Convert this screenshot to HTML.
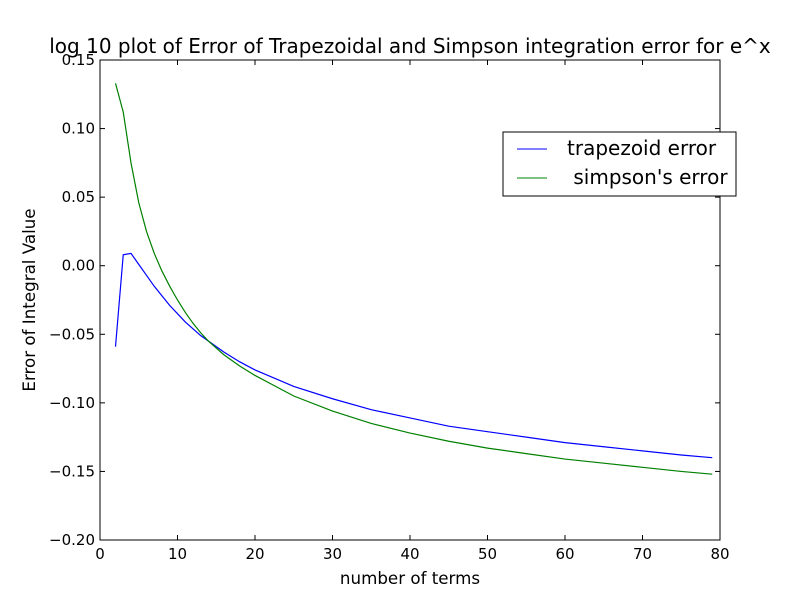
<!DOCTYPE html>
<html><head><meta charset="utf-8"><style>
body{margin:0;background:#fff;}
svg{font-family:"DejaVu Sans","Liberation Sans",sans-serif;}
</style></head><body>
<svg id="chart" width="800" height="600"></svg>
<script>
const xTicks=[0,10,20,30,40,50,60,70,80];
const yTicks=[-0.20,-0.15,-0.10,-0.05,0.00,0.05,0.10,0.15];
const nTerms=[2,3,4,5,6,7,8,9,10,11,12,13,14,16,18,20,25,30,35,40,45,50,55,60,65,70,75,79];
const trapErr=[-0.059,0.008,0.009,0.001,-0.007,-0.015,-0.022,-0.029,-0.035,-0.041,-0.046,-0.051,-0.055,-0.063,-0.070,-0.076,-0.088,-0.097,-0.105,-0.111,-0.117,-0.121,-0.125,-0.129,-0.132,-0.135,-0.138,-0.140];
const simpErr=[0.133,0.112,0.075,0.046,0.025,0.009,-0.004,-0.015,-0.025,-0.034,-0.042,-0.049,-0.055,-0.065,-0.073,-0.080,-0.095,-0.106,-0.115,-0.122,-0.128,-0.133,-0.137,-0.141,-0.144,-0.147,-0.150,-0.152];

const L=100,R=720,T=60,B=540;
const sx=v=>L+(v-0)/(80-0)*(R-L);
const sy=v=>B-(v+0.2)/(0.35)*(B-T);
const svg=document.getElementById('chart');
const NS='http://www.w3.org/2000/svg';
function mk(tag,attrs,parent){const e=document.createElementNS(NS,tag);for(const k in attrs)e.setAttribute(k,attrs[k]);(parent||svg).appendChild(e);return e;}

let t=mk('text',{x:410,y:53,'text-anchor':'middle','font-size':20});
t.textContent='log 10 plot of Error of Trapezoidal and Simpson integration error for e^x';



xTicks.forEach(v=>{
  const x=sx(v);
  const g=mk('g',{});
  
  
  mk('line',{x1:x,x2:x,y1:B,y2:B-5,stroke:'#000'},g);
  mk('line',{x1:x,x2:x,y1:T,y2:T+5,stroke:'#000'},g);
  const tx=mk('text',{x:x,y:B+19,'text-anchor':'middle','font-size':15},g);
  tx.textContent=v;
});
yTicks.forEach(v=>{
  const y=sy(v);
  const g=mk('g',{});
  
  
  mk('line',{x1:L,x2:L+5,y1:y,y2:y,stroke:'#000'},g);
  mk('line',{x1:R,x2:R-5,y1:y,y2:y,stroke:'#000'},g);
  const tx=mk('text',{x:L-5,y:y+5,'text-anchor':'end','font-size':15},g);
  tx.textContent=(v<0?'\u2212':'')+Math.abs(v).toFixed(2);
});

function series(xs,ys,color,name){
  const p=mk('polyline',{points:xs.map((x,i)=>sx(x)+','+sy(ys[i])).join(' '),fill:'none',stroke:color,'stroke-width':1.2});
  
  
}
series(nTerms,trapErr,'#0000ff','trapezoid-error-line');
series(nTerms,simpErr,'#008000','simpson-error-line');

const frame=mk('rect',{x:L,y:T,width:R-L,height:B-T,fill:'none',stroke:'#000'});



let xl=mk('text',{x:410,y:584,'text-anchor':'middle','font-size':16.7});
xl.textContent='number of terms';


let yl=mk('text',{x:0,y:0,'text-anchor':'middle','font-size':16.7,transform:'translate(35,300) rotate(-90)'});
yl.textContent='Error of Integral Value';



const lg=mk('g',{});


mk('rect',{x:503,y:132,width:233,height:64,fill:'#fff',stroke:'#000'},lg);
mk('line',{x1:517,x2:547,y1:149,y2:149,stroke:'#0000ff'},lg);
mk('line',{x1:517,x2:547,y1:178,y2:178,stroke:'#008000'},lg);
let l1=mk('text',{x:567,y:155,'font-size':20},lg);l1.textContent='trapezoid error';


let l2=mk('text',{x:567,y:184,'font-size':20},lg);l2.textContent=' simpson\'s error';
l2.style.whiteSpace='pre';


</script>
</body></html>
